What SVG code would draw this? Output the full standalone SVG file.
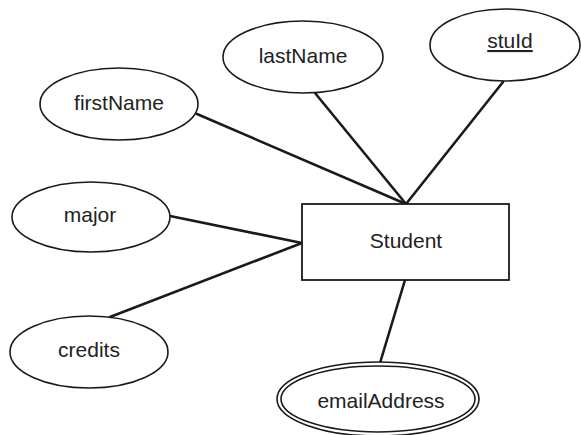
<svg xmlns="http://www.w3.org/2000/svg" width="581" height="435" viewBox="0 0 581 435">
<style>
.attr{fill:#fff;stroke:#1a1a1a;stroke-width:1.6}
.ent{fill:#fff;stroke:#1a1a1a;stroke-width:1.8}
.lbl{font-family:"Liberation Sans",Arial,sans-serif;font-size:21px;fill:#222;text-anchor:middle}
.conn line{stroke:#1a1a1a;stroke-width:2.6;stroke-linecap:round}
</style>
<rect width="581" height="435" fill="#fff"/>
<g id="connectors" class="conn">
<line x1="197" y1="114" x2="406" y2="204"/>
<line x1="315" y1="93" x2="406" y2="204"/>
<line x1="503" y1="82" x2="406" y2="204"/>
<line x1="170" y1="216" x2="302" y2="243"/>
<line x1="110" y1="317" x2="302" y2="243"/>
<line x1="405" y1="280" x2="380" y2="363"/>
</g>
<g id="student">
<rect class="ent" x="302" y="204" width="207" height="76"/>
<text class="lbl" x="406" y="248">Student</text>
</g>
<g id="firstName">
<ellipse class="attr" cx="119" cy="104" rx="79" ry="36"/>
<text class="lbl" x="119" y="110">firstName</text>
</g>
<g id="lastName">
<ellipse class="attr" cx="303" cy="57" rx="80" ry="36"/>
<text class="lbl" x="303" y="63">lastName</text>
</g>
<g id="stuId">
<ellipse class="attr" cx="505" cy="45" rx="75" ry="36"/>
<text class="lbl" x="510" y="48" text-decoration="underline">stuId</text>
</g>
<g id="major">
<ellipse class="attr" cx="91" cy="217" rx="79" ry="35"/>
<text class="lbl" x="90" y="222">major</text>
</g>
<g id="credits">
<ellipse class="attr" cx="89" cy="352" rx="79" ry="36"/>
<text class="lbl" x="89" y="357">credits</text>
</g>
<g id="emailAddress">
<ellipse class="attr" cx="378" cy="399" rx="101" ry="37"/>
<ellipse class="attr" cx="378" cy="399" rx="97" ry="33"/>
<text class="lbl" x="381" y="408">emailAddress</text>
</g>
</svg>
